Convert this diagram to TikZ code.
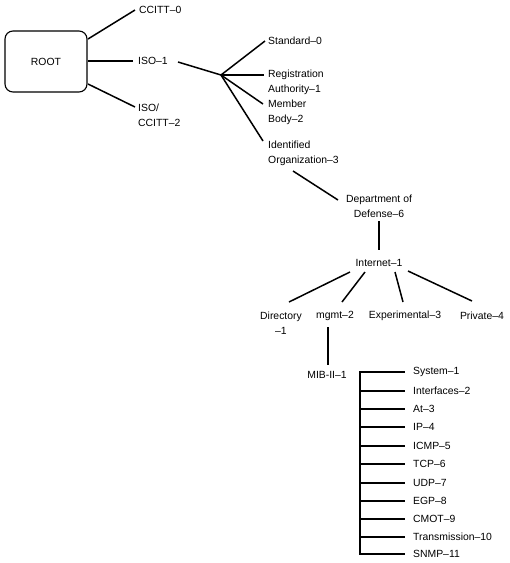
\documentclass[tikz,border=0pt]{standalone}
\usepackage{fontspec}
\setmainfont{Liberation Sans}
\begin{document}
\begin{tikzpicture}[x=1pt,y=-1pt,
  lbl/.style={inner sep=0pt,font=\fontsize{10.4}{15}\selectfont,align=left},
  lblc/.style={inner sep=0pt,font=\fontsize{10.4}{15}\selectfont,align=center},
  conn/.style={line width=1.5pt},
  rootbox/.style={draw,line width=1.1pt,rounded corners=8pt,minimum width=82pt,minimum height=61pt,font=\fontsize{10.4}{12}\selectfont}]
\useasboundingbox (0,0) rectangle (510,563);
% root
\node[rootbox] (root) at (46,61.5) {ROOT};
\node[lbl,anchor=west] (ccitt) at (139,10) {CCITT–0};
\node[lbl,anchor=west] (iso) at (138,61) {ISO–1};
\node[lbl,anchor=west] (joint) at (138,115.5) {ISO/\\CCITT–2};
\coordinate (r1) at (88,39); \coordinate (c1) at (135,10);
\coordinate (r2) at (88,61); \coordinate (c2) at (133,61);
\coordinate (r3) at (88,84); \coordinate (c3) at (135,107);
\draw[conn] (r1) -- (c1);
\draw[conn] (r2) -- (c2);
\draw[conn] (r3) -- (c3);
% ISO subtree
\coordinate (hub) at (221,75);
\coordinate (iso0) at (178,62);
\draw[conn] (iso0) -- (hub);
\node[lbl,anchor=west] (std) at (268,41) {Standard–0};
\node[lbl,anchor=west] (reg) at (268,82.5) {Registration\\Authority–1};
\node[lbl,anchor=west] (mem) at (268,112.5) {Member\\Body–2};
\node[lbl,anchor=west] (idorg) at (268,153.5) {Identified\\Organization–3};
\coordinate (h1) at (265,41); \coordinate (h2) at (264,75);
\coordinate (h3) at (263,104); \coordinate (h4) at (263,141);
\draw[conn] (hub) -- (h1);
\draw[conn] (hub) -- (h2);
\draw[conn] (hub) -- (h3);
\draw[conn] (hub) -- (h4);
% DoD
\node[lblc] (dod) at (379,206) {Department of\\Defense–6};
\coordinate (o1) at (293,171); \coordinate (o2) at (338,200);
\draw[conn] (o1) -- (o2);
\node[lblc] (inet) at (379,263) {Internet–1};
\draw[conn] (379,221) -- (379,250);
% internet children
\node[lblc] (dir) at (281,323) {Directory\\–1};
\node[lblc] (mgmt) at (335,316) {mgmt–2};
\node[lblc] (exp) at (405,316) {Experimental–3};
\node[lblc] (priv) at (482,316) {Private–4};
\draw[conn] (350,272) -- (289,302);
\draw[conn] (365,272) -- (342,302);
\draw[conn] (395,272) -- (403,302);
\draw[conn] (408,271) -- (472,301);
% MIB
\node[lblc] (mib) at (327,375) {MIB-II–1};
\draw[conn] (328,327) -- (328,365);
\coordinate (btop) at (360,372);
\coordinate (bbot) at (360,554);
\draw[conn] (btop) -- (bbot);
\foreach \t/\yy [count=\i from 0] in {System–1/372,Interfaces–2/391,At–3/409,IP–4/427,ICMP–5/446,TCP–6/464,UDP–7/483,EGP–8/501,CMOT–9/519,Transmission–10/537,SNMP–11/554}{
  \node[lbl,anchor=west] (m\i) at (413,\yy) {\t};
  \draw[conn] (359.25,\yy) -- (405,\yy);
}
\end{tikzpicture}
\end{document}
